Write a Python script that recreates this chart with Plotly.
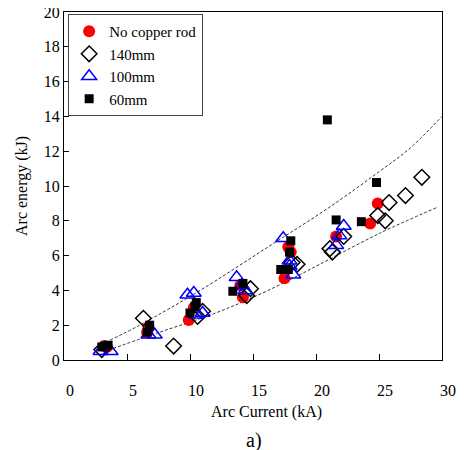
import plotly.graph_objects as go

# Data
no_rod_x = [3.2, 3.4, 6.6, 6.7, 9.9, 10.3, 14.2, 14.0, 17.5, 17.8, 18.0, 21.6, 24.3, 24.9]
no_rod_y = [0.8, 0.75, 1.6, 1.9, 2.3, 3.0, 3.6, 4.3, 4.7, 6.5, 6.2, 7.1, 7.85, 9.0]

r140_x = [3.0, 6.3, 8.7, 10.6, 11.0, 14.5, 14.8, 18.1, 18.5, 21.1, 21.3, 22.2, 24.9, 25.5, 25.8, 27.1, 28.4]
r140_y = [0.6, 2.4, 0.8, 2.5, 2.8, 3.7, 4.1, 5.6, 5.5, 6.4, 6.2, 7.1, 8.3, 8.0, 9.05, 9.45, 10.5]

r100_x = [2.9, 3.7, 6.7, 7.2, 9.8, 10.3, 10.5, 11.0, 13.7, 14.1, 14.4, 17.4, 17.9, 17.9, 18.2, 21.6, 21.85, 22.2]
r100_y = [0.5, 0.5, 1.45, 1.45, 3.75, 3.85, 2.6, 2.7, 4.75, 4.3, 4.0, 7.0, 5.7, 5.4, 4.9, 6.6, 7.15, 7.7]

r60_x = [3.0, 3.5, 6.6, 6.8, 10.0, 10.4, 10.5, 13.4, 14.2, 17.2, 17.8, 17.9, 18.0, 20.9, 21.6, 23.6, 24.8]
r60_y = [0.75, 0.85, 1.6, 2.0, 2.7, 3.1, 3.3, 3.95, 4.4, 5.2, 5.2, 6.2, 6.85, 13.8, 8.05, 7.95, 10.2]

upper_x = [3.65, 6.0, 10.8, 16.35, 21.0, 25.08, 27.5, 30.0]
upper_y = [1.14, 2.0, 4.0, 6.57, 8.75, 10.86, 12.2, 14.0]

lower_x = [3.9, 7.6, 11.85, 15.0, 17.9, 20.3, 25.1, 29.7]
lower_y = [0.67, 1.6, 2.65, 3.6, 4.6, 5.5, 7.3, 8.8]

x_ticks = [0, 5, 10, 15, 20, 25, 30]
y_ticks = [0, 2, 4, 6, 8, 10, 12, 14, 16, 18, 20]

FONT = "Liberation Serif"

fig = go.Figure()

for cx, cy in [(upper_x, upper_y), (lower_x, lower_y)]:
    fig.add_trace(go.Scatter(
        x=cx, y=cy, mode="lines", showlegend=False, hoverinfo="skip",
        line=dict(color="#333333", width=1, dash="3px,2px", shape="spline"),
    ))

fig.add_trace(go.Scatter(
    x=no_rod_x, y=no_rod_y, mode="markers", name="No copper rod",
    marker=dict(symbol="circle", size=12, color="#ff0000", line=dict(width=0)),
))
fig.add_trace(go.Scatter(
    x=r140_x, y=r140_y, mode="markers", name="140mm",
    marker=dict(symbol="diamond-open", size=12, color="black", line=dict(width=1.5, color="black")),
))
fig.add_trace(go.Scatter(
    x=r100_x, y=r100_y, mode="markers", name="100mm",
    marker=dict(symbol="triangle-up-open", size=13, color="#0000ff", line=dict(width=1.5, color="#0000ff")),
))
fig.add_trace(go.Scatter(
    x=r60_x, y=r60_y, mode="markers", name="60mm",
    marker=dict(symbol="square", size=9, color="black", line=dict(width=0)),
))

fig.update_layout(
    width=456, height=442,
    margin=dict(l=56, r=22, t=4, b=90, autoexpand=False),
    paper_bgcolor="white", plot_bgcolor="white",
    font=dict(family=FONT, size=16, color="black"),
    legend=dict(
        x=0.011, y=0.994, xanchor="left", yanchor="top",
        bgcolor="white", bordercolor="#444444", borderwidth=1,
        font=dict(family=FONT, size=15, color="black"),
        tracegroupgap=0,
    ),
    xaxis=dict(
        range=[0, 30], tickvals=x_ticks, ticktext=[str(v) for v in x_ticks],
        ticks="inside", ticklen=6, tickcolor="black", tickwidth=1,
        showline=True, linecolor="black", linewidth=1, mirror=True,
        showgrid=False, zeroline=False, automargin=False,
        ticklabelstandoff=16, ticklabelshift=6, ticklabeloverflow="allow",
        tickfont=dict(family=FONT, size=16),
    ),
    yaxis=dict(
        range=[0, 20], tickvals=y_ticks, ticktext=[str(v) for v in y_ticks],
        ticks="inside", ticklen=5, tickcolor="black", tickwidth=1,
        showline=True, linecolor="black", linewidth=1, mirror=True,
        showgrid=False, zeroline=False, automargin=False,
        ticklabelstandoff=0, ticklabeloverflow="allow",
        tickfont=dict(family=FONT, size=16),
    ),
    annotations=[
        dict(text="Arc Current (kA)", xref="paper", yref="paper", x=0.536, y=0,
             yshift=-52, xanchor="center", yanchor="middle", showarrow=False,
             font=dict(family=FONT, size=16, color="black")),
        dict(text="Arc energy (kJ)", xref="paper", yref="paper", x=0, y=0.5,
             xshift=-42, xanchor="center", yanchor="middle", showarrow=False,
             textangle=-90, font=dict(family=FONT, size=16, color="black")),
        dict(text="a)", xref="paper", yref="paper", x=0.503, y=0, yshift=-80,
             xanchor="center", yanchor="middle", showarrow=False,
             font=dict(family=FONT, size=20, color="black")),
    ],
)

fig.write_html("out.html")
